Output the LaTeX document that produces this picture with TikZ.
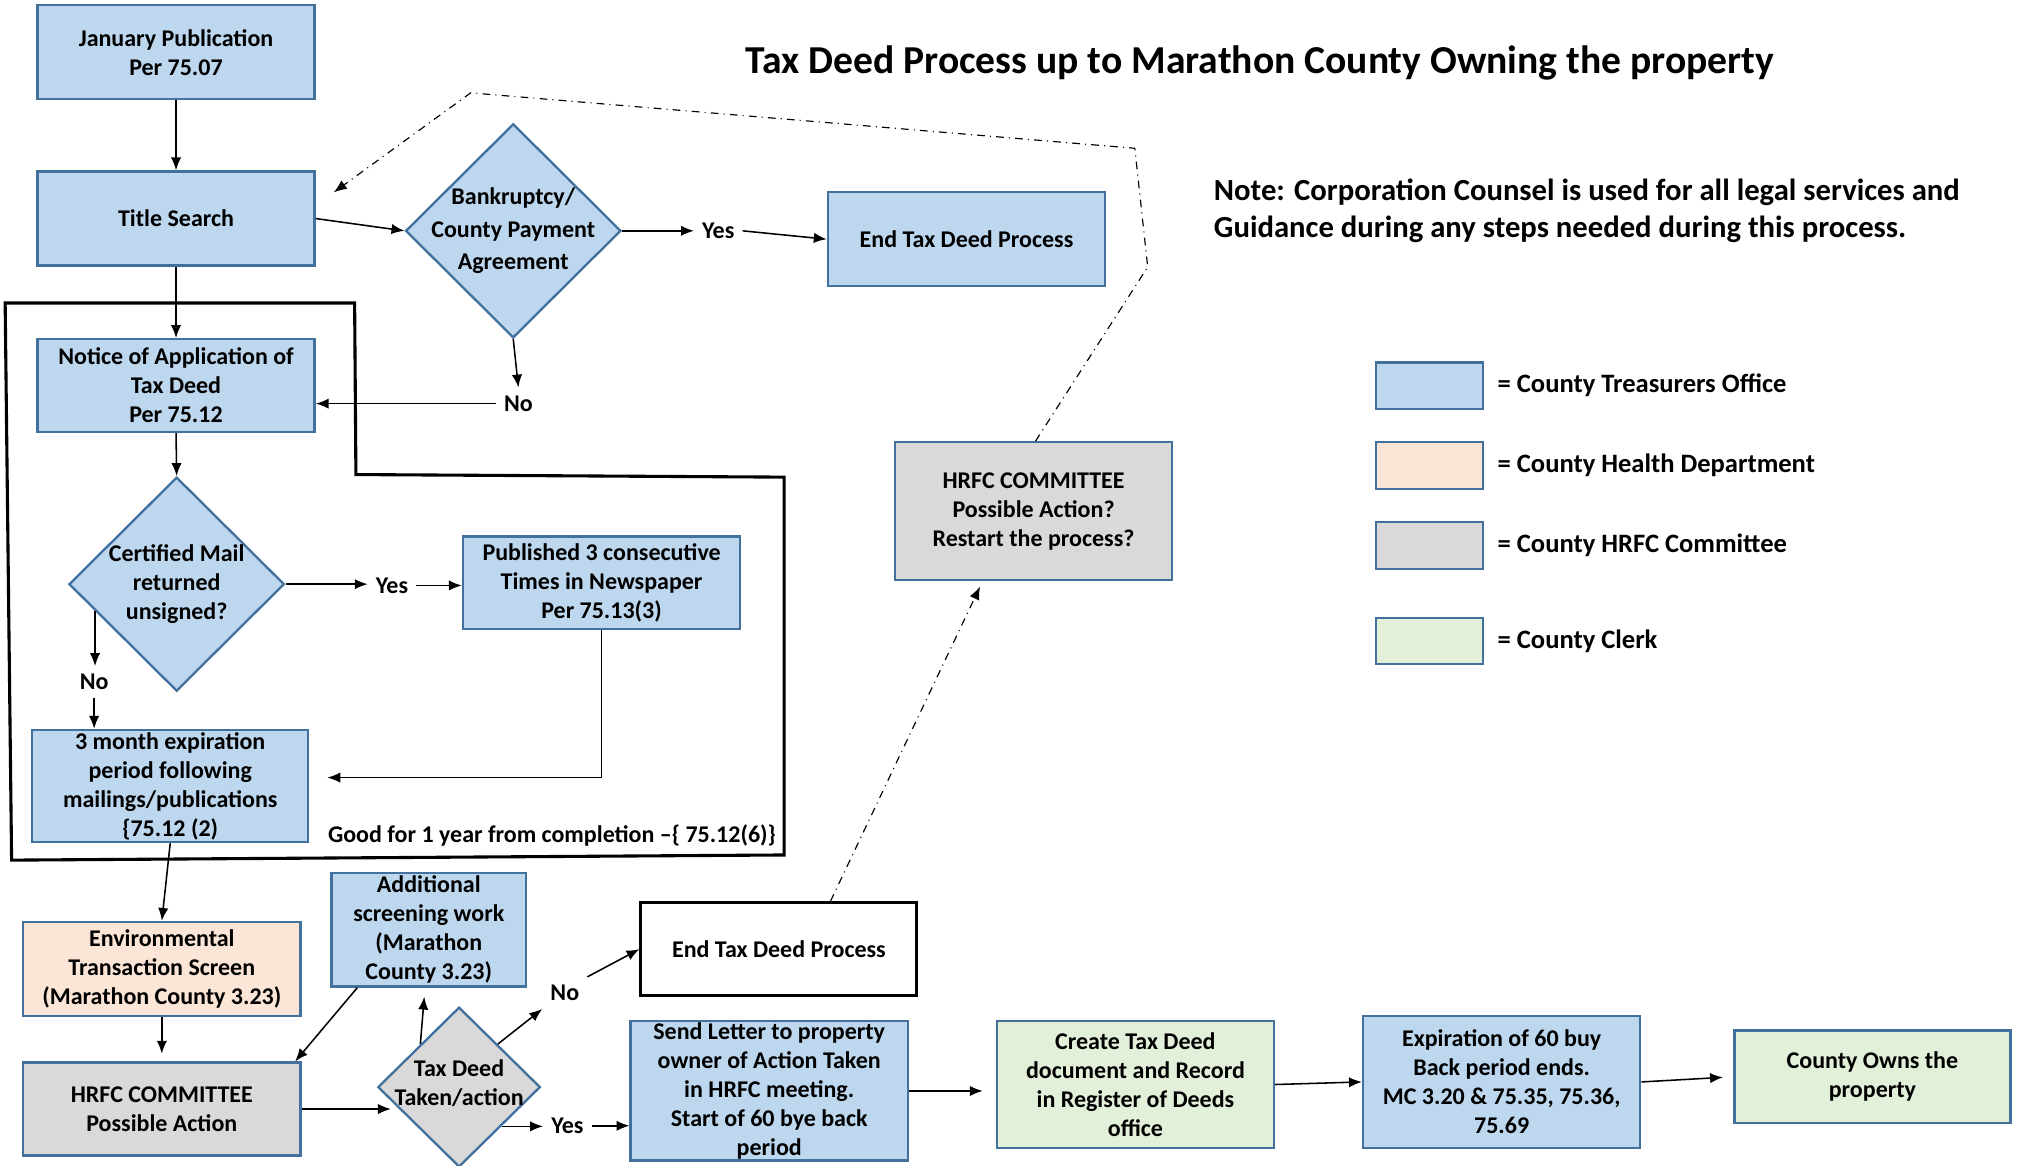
\documentclass[tikz,border=0pt]{standalone}
\usepackage{fontspec}
\setmainfont{Carlito}
\usetikzlibrary{shapes.geometric,arrows.meta,calc}
\definecolor{tfill}{HTML}{BDD7EE}
\definecolor{hfill}{HTML}{FBE5D6}
\definecolor{gfill}{HTML}{D9D9D9}
\definecolor{cfill}{HTML}{E2F0D9}
\definecolor{bord}{HTML}{41719C}
\begin{document}
\begin{tikzpicture}[x=0.5pt,y=-0.5pt,
  font=\bfseries\fontsize{9.3}{11.25}\selectfont,
  sz/.style 2 args={minimum width={#1*0.5pt}, minimum height={#2*0.5pt}},
  box/.style={draw=bord, line width=0.9pt, align=center, inner sep=0pt},
  treas/.style={box, fill=tfill},
  health/.style={box, fill=hfill},
  hrfc/.style={box, fill=gfill},
  clerk/.style={box, fill=cfill},
  endbox/.style={draw=black, line width=1.1pt, fill=white, align=center, inner sep=0pt},
  dia/.style={diamond, draw=bord, line width=0.9pt, inner sep=0pt},
  arr/.style={-{Latex[length=5pt,width=4pt]}, line width=0.6pt},
  lbl/.style={inner sep=3pt},
  legtext/.style={anchor=west, inner sep=0pt, font=\bfseries\fontsize{10.3}{12}\selectfont},
  dd/.style={dash dot, line width=0.45pt, -{Latex[length=5pt,width=4pt]}}]
\useasboundingbox (0,0) rectangle (1568,904);

% title and note
\node[font=\bfseries\fontsize{15.35}{18}\selectfont] (ttl) at (977,49) {Tax Deed Process up to Marathon County Owning the property};
\node[anchor=west, align=left, inner sep=0pt, font=\bfseries\fontsize{11.9}{14.5}\selectfont] (note) at (941,163.5) {Note: Corporation Counsel is used for all legal services and\\Guidance during any steps needed during this process.};

% outline
\draw[line width=1.2pt] (4,235) -- (275,235) -- (276,368) -- (608,370) -- (608,663) -- (9,667) -- cycle;

% nodes
\node[treas, sz={215}{73}] (jan) at (136.5,40.5) {January Publication\\Per 75.07};
\node[treas, sz={215}{73}] (title) at (136.5,169.5) {Title Search};
\node[treas, sz={215}{72}] (notice) at (136.5,299) {Notice of Application of\\Tax Deed\\Per 75.12};
\node[dia, fill=tfill, sz={167}{166}, label={[align=center, inner sep=0pt, font=\bfseries\fontsize{9.3}{12.5}\selectfont]center:Bankruptcy/\\County Payment\\Agreement}] (bank) at (398,179) {};
\node[treas, sz={215}{73}] (end1) at (749.5,185.5) {End Tax Deed Process};
\node[dia, fill=tfill, sz={167}{166}, label={[align=center, inner sep=0pt]center:Certified Mail\\returned\\unsigned?}] (cert) at (137,453) {};
\node[treas, sz={215}{72}] (pub) at (466.5,452) {Published 3 consecutive\\Times in Newspaper\\Per 75.13(3)};
\node[treas, sz={214}{87}] (three) at (132,609.5) {3 month expiration\\period following\\mailings/publications\\\{75.12 (2)};
\node[anchor=west, inner sep=0pt] (good) at (254,648) {Good for 1 year from completion –\{ 75.12(6)\}};
\node[health, sz={215}{73}] (env) at (125.5,751.5) {Environmental\\Transaction Screen\\(Marathon County 3.23)};
\node[treas, sz={151}{88}] (add) at (332.5,721) {Additional\\screening work\\(Marathon\\County 3.23)};
\node[hrfc, sz={215}{72}] (hrfc1) at (125.5,860) {HRFC COMMITTEE\\Possible Action};
\node[dia, fill=gfill, sz={126}{124}, label={[align=center, inner sep=0pt, yshift=1.5pt]center:Tax Deed\\Taken/action}] (tax) at (356,843) {};
\node[endbox, sz={214}{72}] (end2) at (604,736) {End Tax Deed Process};
\node[treas, sz={215}{108}] (send) at (596.5,846) {Send Letter to property\\owner of Action Taken\\in HRFC meeting.\\Start of 60 bye back\\period};
\node[clerk, sz={215}{98}] (create) at (880.5,841) {Create Tax Deed\\document and Record\\in Register of Deeds\\office};
\node[treas, sz={215}{102}] (expir) at (1164.5,839) {Expiration of 60 buy\\Back period ends.\\MC 3.20 \& 75.35, 75.36,\\75.69};
\node[clerk, sz={214}{72}] (owns) at (1452,835) {County Owns the\\property};
\node[hrfc, sz={215}{107}] (hrfc2) at (801.5,396.5) {HRFC COMMITTEE\\Possible Action?\\Restart the process?};

% legend
\node[treas, sz={83}{36}] (lg1) at (1108.5,299) {};
\node[health, sz={83}{36}] (lg2) at (1108.5,361) {};
\node[hrfc, sz={83}{36}] (lg3) at (1108.5,423) {};
\node[clerk, sz={83}{36}] (lg4) at (1108.5,497) {};
\node[legtext] (lt1) at (1161,299) {= County Treasurers Office};
\node[legtext] (lt2) at (1161,361) {= County Health Department};
\node[legtext] (lt3) at (1161,423) {= County HRFC Committee};
\node[legtext] (lt4) at (1161,497) {= County Clerk};

% labels
\node[lbl] (yes1) at (557,179) {Yes};
\node[lbl] (no1) at (402,313) {No};
\node[lbl] (yes2) at (304,454) {Yes};
\node[lbl] (no2) at (73,529) {No};
\node[lbl] (no3) at (438,770) {No};
\node[lbl] (yes3) at (440,873) {Yes};

% connectors
\draw[arr] (jan.south) -- (title.north);
\draw[arr] (title.south) -- (notice.north);
\draw[arr] (title.east) -- (bank.west);
\draw[arr] (bank.east) -- (bank.east -| yes1.west);
\draw[arr] (yes1.east) -- (end1.west);
\draw[arr] (bank.south) -- (no1.north);
\draw[arr] (no1.west) -- (no1.west -| notice.east);
\draw[arr] (notice.south) -- (cert.north);
\draw[arr] (cert.east) -- (cert.east -| yes2.west);
\draw[arr] (yes2.east) -- (yes2.east -| pub.west);
\coordinate (c1) at ($(cert.west)!0.25!(cert.south)$);
\draw[arr] (c1) -- (c1 |- no2.north);
\draw[arr] (no2.south) -- (no2.south |- three.north);
\coordinate (c2) at ($(three.east)+(14,-6.5)$);
\draw[arr, line width=0.5pt] (pub.south) |- (c2);
\draw[arr] (three.south) -- (env.north);
\draw[arr, shorten >=3pt] (env.south) -- (hrfc1.north);
\draw[arr] ($(add.south west)+(21,0)$) -- ($(hrfc1.north east)+(-5,0)$);
\draw[arr] (hrfc1.east) -- ($(hrfc1.east -| tax.west)+(11,0)$);
\draw[arr] ($(tax.north)!0.47!(tax.west)$) -- ($(add.south)+(-3.5,7)$);
\draw[arr] ($(tax.north)!0.47!(tax.east)$) -- (no3.south west);
\draw[arr] (no3.north east) -- (end2.west);
\coordinate (c3) at ($(tax.east)!0.484!(tax.south)$);
\draw[arr] (c3) -- (c3 -| yes3.west);
\draw[arr] (yes3.east) -- (yes3.east -| send.west);
\draw[arr, shorten >=5pt] (send.east) -- (send.east -| create.west);
\draw[arr] (create.east) -- (expir.west);
\draw[arr, shorten >=4pt] (expir.east) -- (owns.west);

% dash-dot feedback
\draw[dd] ($(end2.north)+(40,0)$) -- ($(hrfc2.south)+(-41.5,4)$);
\coordinate (d1) at (890,207);
\coordinate (d2) at (880,115);
\coordinate (d3) at (365,72);
\draw[dd] ($(hrfc2.north)+(1.5,0)$) -- (d1) -- (d2) -- (d3) -- ($(title.north east)+(14,17)$);
\end{tikzpicture}
\end{document}
